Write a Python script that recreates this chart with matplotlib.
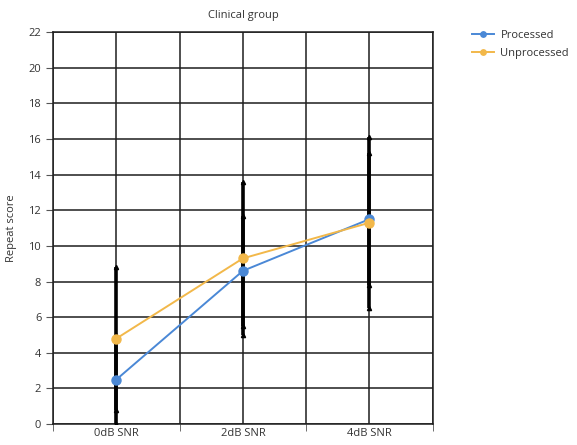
import numpy as np
import matplotlib
matplotlib.use("Agg")
import matplotlib.pyplot as plt

plt.rcParams['font.family'] = ['Open Sans', 'DejaVu Sans']

conditions = ["0dB SNR", "2dB SNR", "4dB SNR"]
processed = [2.5, 8.6, 11.5]
processed_err = [2.5, 3.1, 3.7]
unprocessed = [4.8, 9.3, 11.3]
unprocessed_err = [4.0, 4.3, 4.8]

blue = "#4a88d6"
orange = "#f2b84a"

fig = plt.figure(figsize=(5.77, 4.45), dpi=100)
ax = fig.add_axes([0.092, 0.047, 0.658, 0.881])

x = np.arange(len(conditions))

# error bars first, black with small arrowheads at the ends
for vals, errs in [(unprocessed, unprocessed_err), (processed, processed_err)]:
    v = np.array(vals)
    e = np.array(errs)
    ax.errorbar(x, v, yerr=e, fmt='none', ecolor='black', elinewidth=2.6, capsize=0, zorder=3)
    ax.plot(x, v + e, '^', color='black', markersize=3, zorder=3)
    ax.plot(x, v - e, '^', color='black', markersize=3, zorder=3)

ax.plot(x, processed, '-o', color=blue, lw=1.4, markersize=6.5, label="Processed", zorder=4)
ax.plot(x, unprocessed, '-o', color=orange, lw=1.4, markersize=6.5, label="Unprocessed", zorder=5)

ax.set_xlim(-0.5, 2.5)
ax.set_ylim(0, 22)
ax.set_yticks(np.arange(0, 23, 2))
ax.set_xticks(x)
ax.set_xticklabels(conditions)
ax.set_xticks(np.arange(-0.5, 2.6, 0.5), minor=True)
ax.tick_params(axis='x', which='major', length=0, pad=3, labelsize=8, colors='#333333')
ax.tick_params(axis='x', which='minor', length=5, color='#555555')
ax.tick_params(axis='y', length=5, labelsize=8, colors='#333333', color='#555555')

ax.grid(True, which='minor', axis='x', color='#1e1e1e', lw=1.1)
ax.grid(True, which='major', axis='y', color='#1e1e1e', lw=1.1)
ax.grid(True, which='major', axis='x', color='#1e1e1e', lw=1.1)
for s in ax.spines.values():
    s.set_color('#1e1e1e')
    s.set_linewidth(1.1)
ax.set_axisbelow(True)

ax.set_ylabel("Repeat score", fontsize=8, color='#333333', labelpad=8)
ax.set_title("Clinical group", fontsize=8, color='#333333', pad=10)

fig.legend(loc='upper left', bbox_to_anchor=(0.80, 0.955), frameon=False,
           fontsize=8, handlelength=2.0, handletextpad=0.6, markerscale=0.6,
           labelspacing=0.6, labelcolor='#333333')

fig.savefig("out.png", dpi=100)
